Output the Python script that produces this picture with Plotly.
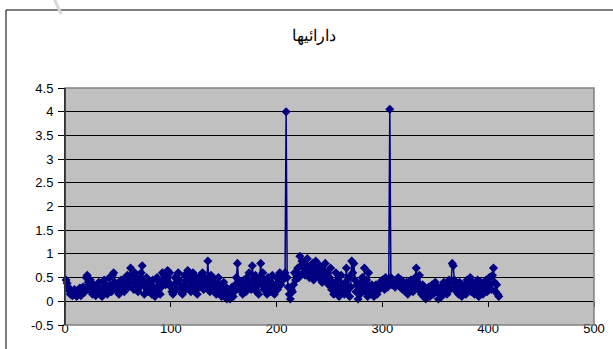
import plotly.graph_objects as go

title_text = "دارائیها"

# Series values, one per observation (x = 1, 2, 3, ...)
values = [
    0.45, 0.38, 0.3, 0.22, 0.15, 0.2, 0.12, 0.18, 0.25, 0.15,
    0.1, 0.2, 0.15, 0.28, 0.12, 0.22, 0.3, 0.18, 0.25, 0.5,
    0.55, 0.4, 0.3, 0.45, 0.2, 0.15, 0.35, 0.25, 0.12, 0.3,
    0.2, 0.4, 0.15, 0.25, 0.1, 0.3, 0.45, 0.2, 0.35, 0.15,
    0.25, 0.5, 0.3, 0.2, 0.55, 0.6, 0.4, 0.25, 0.35, 0.2,
    0.15, 0.3, 0.45, 0.25, 0.4, 0.2, 0.5, 0.35, 0.55, 0.3,
    0.45, 0.7, 0.55, 0.4, 0.25, 0.6, 0.35, 0.5, 0.2, 0.45,
    0.3, 0.6, 0.75, 0.4, 0.15, 0.3, 0.5, 0.25, 0.2, 0.4,
    0.35, 0.15, 0.45, 0.3, 0.1, 0.25, 0.5, 0.2, 0.4, 0.15,
    0.3, 0.6, 0.45, 0.55, 0.35, 0.5, 0.65, 0.4, 0.6, 0.3,
    0.2, 0.15, 0.35, 0.5, 0.25, 0.4, 0.6, 0.45, 0.2, 0.3,
    0.15, 0.35, 0.55, 0.25, 0.45, 0.65, 0.3, 0.5, 0.2, 0.4,
    0.6, 0.35, 0.25, 0.5, 0.15, 0.45, 0.3, 0.55, 0.4, 0.6,
    0.25, 0.5, 0.3, 0.45, 0.85, 0.4, 0.2, 0.55, 0.35, 0.5,
    0.25, 0.4, 0.15, 0.3, 0.5, 0.2, 0.35, 0.1, 0.25, 0.4,
    0.15, 0.3, 0.05, 0.2, 0.1, 0.05, 0.15, 0.3, 0.1, 0.2,
    0.35, 0.5, 0.8, 0.45, 0.25, 0.4, 0.3, 0.15, 0.45, 0.35,
    0.2, 0.5, 0.3, 0.6, 0.4, 0.25, 0.75, 0.45, 0.3, 0.55,
    0.2, 0.4, 0.15, 0.5, 0.8, 0.35, 0.6, 0.25, 0.45, 0.3,
    0.15, 0.5, 0.35, 0.2, 0.4, 0.55, 0.3, 0.15, 0.35, 0.5,
    0.25, 0.4, 0.6, 0.35, 0.5, 0.45, 0.55, 0.6, 4.0, 0.5,
    0.3, 0.15, 0.05, 0.25, 0.2, 0.35, 0.6, 0.45, 0.55, 0.7,
    0.5, 0.95, 0.75, 0.85, 0.6, 0.8, 0.55, 0.7, 0.9, 0.65,
    0.5, 0.75, 0.6, 0.8, 0.45, 0.65, 0.85, 0.55, 0.7, 0.5,
    0.75, 0.6, 0.4, 0.65, 0.55, 0.8, 0.45, 0.6, 0.35, 0.5,
    0.7, 0.25, 0.4, 0.15, 0.3, 0.6, 0.2, 0.45, 0.1, 0.3,
    0.55, 0.2, 0.35, 0.15, 0.4, 0.7, 0.25, 0.5, 0.1, 0.3,
    0.85, 0.6, 0.8, 0.45, 0.2, 0.35, 0.05, 0.25, 0.15, 0.4,
    0.5, 0.3, 0.7, 0.2, 0.45, 0.1, 0.6, 0.3, 0.15, 0.35,
    0.25, 0.1, 0.2, 0.35, 0.15, 0.3, 0.25, 0.4, 0.3, 0.45,
    0.35, 0.25, 0.5, 0.4, 0.3, 0.45, 4.05, 0.5, 0.35, 0.45,
    0.4, 0.3, 0.45, 0.35, 0.5, 0.4, 0.3, 0.45, 0.25, 0.35,
    0.3, 0.2, 0.4, 0.15, 0.3, 0.25, 0.45, 0.35, 0.2, 0.3,
    0.5, 0.7, 0.4, 0.25, 0.55, 0.3, 0.15, 0.35, 0.1, 0.2,
    0.05, 0.25, 0.15, 0.3, 0.1, 0.2, 0.35, 0.15, 0.25, 0.4,
    0.2, 0.3, 0.05, 0.15, 0.3, 0.1, 0.25, 0.4, 0.2, 0.35,
    0.15, 0.3, 0.45, 0.25, 0.4, 0.8, 0.75, 0.45, 0.3, 0.2,
    0.35, 0.15, 0.4, 0.25, 0.1, 0.3, 0.2, 0.35, 0.15, 0.45,
    0.25, 0.3, 0.5, 0.2, 0.4, 0.3, 0.15, 0.35, 0.2, 0.45,
    0.1, 0.25, 0.4, 0.3, 0.15, 0.35, 0.25, 0.45, 0.2, 0.3,
    0.5, 0.35, 0.25, 0.55, 0.7, 0.4, 0.2, 0.35, 0.15, 0.1,
]
x_vals = list(range(1, len(values) + 1))

x_ticks = [0, 100, 200, 300, 400, 500]
y_ticks = [-0.5, 0, 0.5, 1, 1.5, 2, 2.5, 3, 3.5, 4, 4.5]
y_tick_labels = ["-0.5", "0", "0.5", "1", "1.5", "2", "2.5", "3", "3.5", "4", "4.5"]

NAVY = "#000080"
FONT = "Liberation Sans, Arial, sans-serif"

fig = go.Figure()
fig.add_trace(go.Scatter(
    x=x_vals, y=values, mode="lines+markers",
    line=dict(color=NAVY, width=1.5),
    marker=dict(symbol="diamond", size=7, color=NAVY),
    showlegend=False, cliponaxis=False,
))

# Invisible trace on a second x-axis that crosses at y = 0 (carries the tick marks)
fig.add_trace(go.Scatter(x=[0, 500], y=[0, 0], xaxis="x2", mode="lines",
                         line=dict(width=0), hoverinfo="skip", showlegend=False))

fig.update_layout(
    width=613, height=349,
    margin=dict(l=65, r=19, t=88, b=24),
    paper_bgcolor="white", plot_bgcolor="#C0C0C0",
    font=dict(family=FONT, size=13, color="black"),
    title=dict(text=title_text, x=314 / 613, xanchor="center", y=1 - 35 / 349,
               yanchor="middle", yref="container",
               font=dict(family=FONT, size=16, color="black")),
    xaxis=dict(range=[0, 500], tickvals=x_ticks, showgrid=False, zeroline=False,
               showline=False, ticks="", ticklabelstandoff=-6, automargin=False,
               tickfont=dict(size=13)),
    xaxis2=dict(range=[0, 500], tickvals=x_ticks, overlaying="x", anchor="free",
                position=0.1, side="bottom", showgrid=False, zeroline=False,
                showline=True, linecolor="black", linewidth=1,
                ticks="outside", ticklen=5, tickcolor="black",
                showticklabels=False, automargin=False),
    yaxis=dict(range=[-0.5, 4.5], tickvals=y_ticks, ticktext=y_tick_labels,
               showgrid=True, gridcolor="black", gridwidth=1, zeroline=False,
               showline=True, linecolor="black", linewidth=1,
               ticks="outside", ticklen=6, tickcolor="black",
               ticklabelstandoff=2, automargin=False, tickfont=dict(size=13)),
    shapes=[
        # plot area border
        dict(type="rect", xref="paper", yref="paper", x0=0, x1=1, y0=0, y1=1,
             line=dict(color="#808080", width=1.5), layer="above"),
        # y axis line redrawn over the border
        dict(type="line", xref="paper", yref="paper", x0=0, x1=0, y0=0, y1=1,
             line=dict(color="black", width=1), layer="above"),
        # chart area frame
        dict(type="rect", xref="paper", yref="paper",
             x0=(6 - 65) / 529, x1=1.2, y0=-0.3, y1=(325 - 10) / 237,
             line=dict(color="black", width=1)),
        # faint stroke at the top-left corner
        dict(type="line", xref="paper", yref="paper",
             x0=(54 - 65) / 529, y0=(325 + 2) / 237,
             x1=(61 - 65) / 529, y1=(325 - 14) / 237,
             line=dict(color="#D8D8D8", width=3)),
    ],
)

fig.write_html("out.html")
